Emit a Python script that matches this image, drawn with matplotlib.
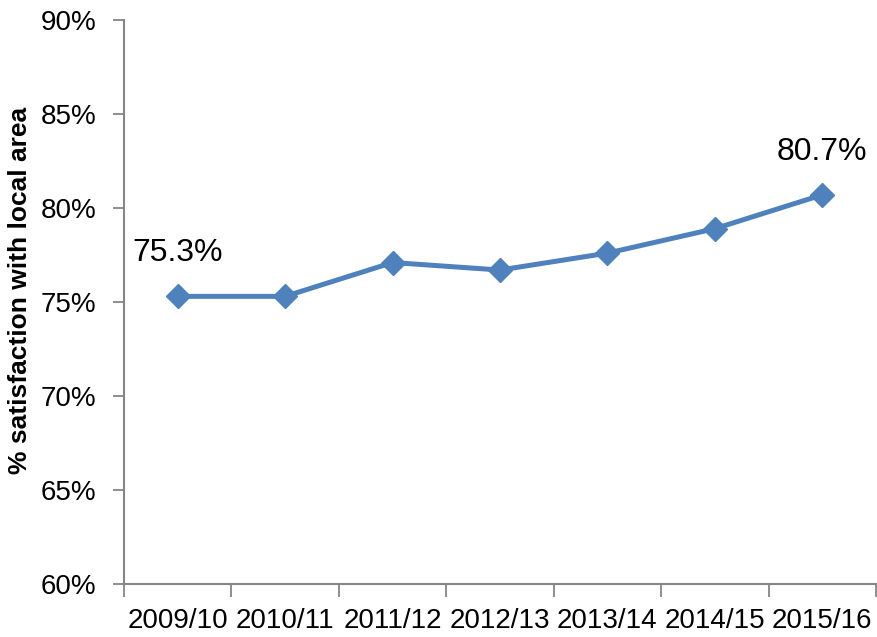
import matplotlib
matplotlib.use("Agg")
import matplotlib.pyplot as plt
import numpy as np

years = ["2009/10", "2010/11", "2011/12", "2012/13", "2013/14", "2014/15", "2015/16"]
satisfaction = [75.3, 75.3, 77.1, 76.7, 77.6, 78.9, 80.7]
labelled = [0, 6]  # first and last points get a value label

line_col = "#4F81BD"
axis_col = "#868686"

plt.rcParams["font.family"] = ["Liberation Sans", "DejaVu Sans"]


def main():
    fig = plt.figure(figsize=(8.77, 6.37), dpi=100)
    ax = fig.add_axes([124 / 877, 53 / 637, 752 / 877, 564 / 637])

    x = np.arange(len(years))
    ax.plot(x, satisfaction, color=line_col, lw=3.6, marker="D", ms=12,
            solid_joinstyle="round")

    for i in labelled:
        ax.annotate("%.1f%%" % satisfaction[i], (x[i], satisfaction[i]),
                    xytext=(0, 31), textcoords="offset points",
                    ha="center", va="center", fontsize=23)

    ax.set_xlim(-0.5, len(years) - 0.5)
    ax.set_ylim(60, 90)
    ax.set_yticks(np.arange(60, 91, 5))
    ax.set_yticklabels(["%d%%" % v for v in np.arange(60, 91, 5)])
    ax.set_xticks(x)
    ax.set_xticklabels(years)
    ax.set_xticks(np.arange(-0.5, len(years)), minor=True)

    ax.tick_params(axis="y", length=8, width=1.3, color=axis_col, pad=12, labelsize=20)
    ax.tick_params(axis="x", which="major", length=0, pad=17, labelsize=20)
    ax.tick_params(axis="x", which="minor", length=9, width=1.3, color=axis_col)

    for s in ["top", "right"]:
        ax.spines[s].set_visible(False)
    for s in ["left", "bottom"]:
        ax.spines[s].set_color(axis_col)
        ax.spines[s].set_linewidth(1.5)

    ax.set_ylabel("% satisfaction with local area", fontsize=19, fontweight="bold")
    ax.yaxis.set_label_coords(-0.122, 0.52)

    fig.savefig("out.png", dpi=100)


if __name__ == "__main__":
    main()
